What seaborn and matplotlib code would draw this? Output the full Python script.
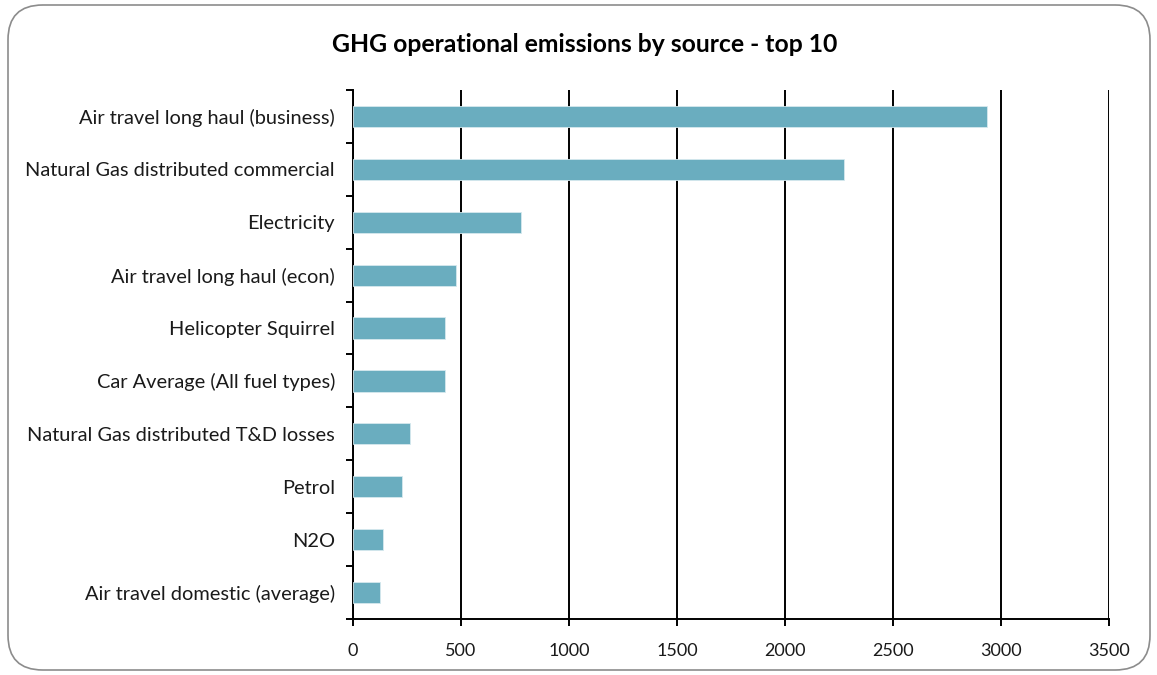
import matplotlib
matplotlib.use("Agg")
import matplotlib.pyplot as plt
import seaborn as sns
import pandas as pd
import numpy as np
from matplotlib.patches import FancyBboxPatch
from matplotlib.ticker import FixedLocator

categories = [
    "Air travel long haul (business)",
    "Natural Gas distributed commercial",
    "Electricity",
    "Air travel long haul (econ)",
    "Helicopter Squirrel",
    "Car Average (All fuel types)",
    "Natural Gas distributed T&D losses",
    "Petrol",
    "N2O",
    "Air travel domestic (average)",
]
values = [2935, 2272, 780, 477, 427, 427, 266, 229, 141, 127]
x_ticks = [0, 500, 1000, 1500, 2000, 2500, 3000, 3500]
title = "GHG operational emissions by source - top 10"

sns.set_theme(style="white")
plt.rcParams["font.family"] = ["Lato", "DejaVu Sans"]

df = pd.DataFrame({"source": categories, "value": values})

fig = plt.figure(figsize=(11.57, 6.75), dpi=100)
ax = fig.add_axes([353 / 1157, 1 - 619 / 675, (1109 - 353) / 1157, (619 - 90) / 675])

sns.barplot(data=df, x="value", y="source", orient="h", color="#6aadbf",
            width=0.4, saturation=1, edgecolor="#d6e9ee", linewidth=0.6, ax=ax, zorder=3)

ax.set_xlim(0, 3500)
ax.set_ylim(len(categories) - 0.5, -0.5)
ax.set_xticks(x_ticks)
ax.set_xticklabels([str(t) for t in x_ticks], fontsize=13, color="#1a1a1a")
ax.xaxis.grid(True, color="black", linewidth=1.4, zorder=0)
ax.yaxis.grid(False)
ax.set_axisbelow(True)
ax.set_xlabel("")
ax.set_ylabel("")

ax.tick_params(axis="y", which="major", length=0, labelsize=14.4, labelcolor="#1a1a1a", pad=13)
ax.yaxis.set_minor_locator(FixedLocator(np.arange(-0.5, len(categories), 1.0)))
ax.tick_params(axis="y", which="minor", left=True, length=5, width=1.4, color="black", direction="out")
ax.tick_params(axis="x", which="major", bottom=True, length=5, width=1.4, color="black", direction="out", pad=12)

for s in ["top", "right"]:
    ax.spines[s].set_visible(False)
for s in ["left", "bottom"]:
    ax.spines[s].set_color("black")
    ax.spines[s].set_linewidth(1.4)

fig.text(585 / 1157, 1 - 44 / 675, title, ha="center", va="center",
         fontsize=17.8, fontweight="bold", color="black")

border = FancyBboxPatch((8 / 1157, 5 / 675), (1150 - 8) / 1157, (670 - 5) / 675,
                        boxstyle="round,pad=0,rounding_size=0.03",
                        transform=fig.transFigure, facecolor="none",
                        edgecolor="#8c8c8c", linewidth=1.2, mutation_aspect=1157 / 675)
fig.patches.append(border)

fig.savefig("out.png", dpi=100)
